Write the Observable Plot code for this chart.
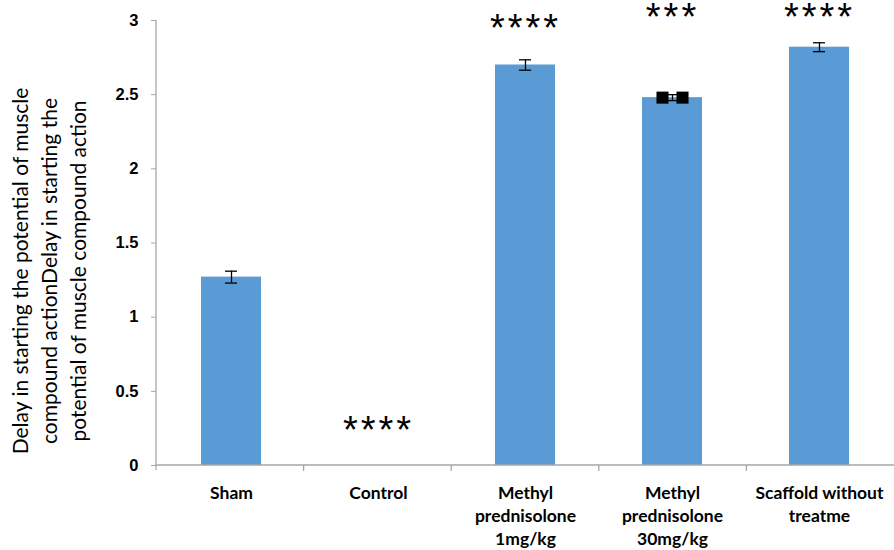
<!DOCTYPE html>
<html><head><meta charset="utf-8">
<script src="https://cdn.jsdelivr.net/npm/d3@7"></script>
<script src="https://cdn.jsdelivr.net/npm/@observablehq/plot@0.6"></script>
<style>body{margin:0;background:#fff}</style>
</head><body><div id="chart"></div>
<script>
const groups = ["Sham", "Control", "Methyl prednisolone 1mg/kg", "Methyl prednisolone 30mg/kg", "Scaffold without treatme"];
const groupLabels = ["Sham", "Control", "Methyl\nprednisolone\n1mg/kg", "Methyl\nprednisolone\n30mg/kg", "Scaffold without\ntreatme"];
const values = [1.27, 0, 2.70, 2.48, 2.82];
const errors = [0.04, 0, 0.035, 0.02, 0.03];
const sigMarks = ["", "****", "****", "***", "****"];
const sigY = [null, 0.27, 2.98, 3.05, 3.05];
const yTicks = [0, 0.5, 1, 1.5, 2, 2.5, 3];
const yTitle = ["Delay in starting the potential of muscle", "compound actionDelay in starting the", "potential of muscle compound action"];
const squareMarkers = [{group: groups[3], value: 2.48}];

const rows = groups.map((g, i) => ({group: g, value: values[i], err: errors[i], sig: sigMarks[i], sigY: sigY[i]}));
const withErr = rows.filter(d => d.err > 0);
const axisColor = "#A6A6A6";

const axesLines = (index, scales, values, dims) => {
  const g = d3.create("svg:g").attr("stroke", axisColor).attr("stroke-width", 1.3);
  const x0 = dims.marginLeft, x1 = dims.width - dims.marginRight;
  const yb = scales.y(0), yt = scales.y(3);
  g.append("line").attr("x1", x0).attr("x2", x0).attr("y1", yt).attr("y2", yb + 5);
  g.append("line").attr("x1", x0).attr("x2", x1).attr("y1", yb).attr("y2", yb);
  const step = (x1 - x0) / groups.length;
  for (let i = 1; i < groups.length; i++) {
    g.append("line").attr("x1", x0 + i * step).attr("x2", x0 + i * step).attr("y1", yb).attr("y2", yb + 6);
  }
  return g.node();
};

const plot = Plot.plot({
  width: 894,
  height: 550,
  marginTop: 20,
  marginBottom: 85,
  marginLeft: 156,
  marginRight: 0,
  style: {fontFamily: "'Liberation Sans', Arial, sans-serif", background: "#fff", overflow: "visible"},
  x: {domain: groups, paddingInner: 0.594, paddingOuter: 0.297, label: null},
  y: {domain: [0, 3], label: null},
  marks: [
    Plot.barY(rows, {x: "group", y: "value", fill: "#5B9BD5"}),
    Plot.ruleX(withErr, {x: "group", y1: d => d.value - d.err, y2: d => d.value + d.err, stroke: "#000", strokeWidth: 1.3}),
    Plot.tickY(withErr, {x: "group", y: d => d.value + d.err, stroke: "#000", strokeWidth: 1.3, insetLeft: 24, insetRight: 24}),
    Plot.tickY(withErr, {x: "group", y: d => d.value - d.err, stroke: "#000", strokeWidth: 1.3, insetLeft: 24, insetRight: 24}),
    Plot.dot(squareMarkers, {x: "group", y: "value", symbol: "square", fill: "#000", r: 6.8, dx: -10}),
    Plot.dot(squareMarkers, {x: "group", y: "value", symbol: "square", fill: "#000", r: 6.8, dx: 10}),
    axesLines,
    Plot.axisY({ticks: yTicks, tickSize: 5, tickPadding: 13, tickFormat: d => String(d), fontSize: 16.5, fontWeight: "bold", stroke: axisColor, fill: "#000", label: null}),
    Plot.axisX({tickSize: 0, tickPadding: 17.5, tickFormat: d => groupLabels[groups.indexOf(d)], fontSize: 17.5, fontWeight: "bold", fontFamily: "Lato", lineHeight: 1.3, fill: "#000", label: null}),
    Plot.text(rows.filter(d => d.sig), {x: "group", y: "sigY", text: "sig", fontSize: 38, dy: 5, fill: "#000", lineAnchor: "middle"}),
    Plot.text([yTitle.join("\n")], {frameAnchor: "left", rotate: -90, dx: -109, dy: 28, fontSize: 21, fontFamily: "Lato", lineHeight: 1.4, textAnchor: "middle", lineAnchor: "middle", fill: "#000"})
  ]
});
document.getElementById("chart").appendChild(plot);
d3.select(plot).selectAll("text").filter(function () { return /^\*+$/.test(this.textContent); }).style("letter-spacing", "3px");
</script>
</body></html>
